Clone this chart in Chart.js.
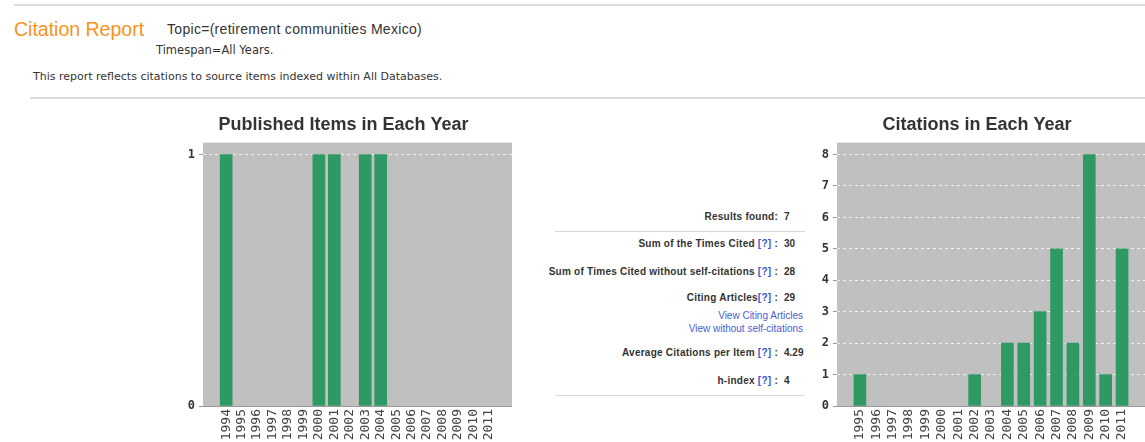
<!DOCTYPE html>
<html>
<head>
<meta charset="utf-8">
<title>Citation Report</title>
<script src="https://cdn.jsdelivr.net/npm/chart.js@4.4.1/dist/chart.umd.min.js"></script>
<style>
body { margin: 0; width: 1145px; height: 442px; overflow: hidden; background: #fff; position: relative;
       font-family: "Liberation Sans", Arial, sans-serif; color: #333; }
.rule { position: absolute; height: 2px; background: #dcdcdc; right: 0; }
.txt { position: absolute; white-space: nowrap; line-height: 1; }
.lab { position: absolute; right: 367px; white-space: nowrap; font-size: 10px; font-weight: bold; color: #333; line-height: 1; letter-spacing: 0.25px; }
.val { position: absolute; left: 784px; white-space: nowrap; font-size: 10px; font-weight: bold; color: #333; line-height: 1; }
.q { color: #3a55c8; }
.lnk { position: absolute; right: 342px; white-space: nowrap; font-size: 10px; color: #4a60d0; line-height: 1; }
.sep { position: absolute; left: 555px; width: 250px; height: 1px; background: #d8d8d8; }
canvas { position: absolute; }
</style>
</head>
<body>
<div class="rule" style="left:14px; top:4px;"></div>
<div class="txt" style="left:14px; top:20px; font-size:19.5px; color:#f7941e;">Citation Report</div>
<div class="txt" style="left:167px; top:22px; font-size:14px; letter-spacing:0.3px; color:#333;">Topic=(retirement communities Mexico)</div>
<div class="txt" style="left:156px; top:45px; font-size:11.5px; font-family:'DejaVu Sans'; color:#333;">Timespan=All Years.</div>
<div class="txt" style="left:33px; top:71px; font-size:11px; font-family:'DejaVu Sans'; color:#333;">This report reflects citations to source items indexed within All Databases.</div>
<div class="rule" style="left:30px; top:97px;"></div>

<div class="lab" style="top:212px;">Results found:</div><div class="val" style="top:212px;">7</div>
<div class="sep" style="top:231px;"></div>
<div class="lab" style="top:239px;">Sum of the Times Cited <span class="q">[?]</span> :</div><div class="val" style="top:239px;">30</div>
<div class="lab" style="top:267px;">Sum of Times Cited without self-citations <span class="q">[?]</span> :</div><div class="val" style="top:267px;">28</div>
<div class="lab" style="top:293px;">Citing Articles<span class="q">[?]</span> :</div><div class="val" style="top:293px;">29</div>
<div class="lnk" style="top:311px;">View Citing Articles</div>
<div class="lnk" style="top:324px;">View without self-citations</div>
<div class="lab" style="top:348px;">Average Citations per Item <span class="q">[?]</span> :</div><div class="val" style="top:348px;">4.29</div>
<div class="lab" style="top:376px;">h-index <span class="q">[?]</span> :</div><div class="val" style="top:376px;">4</div>
<div class="sep" style="top:395px;"></div>

<canvas id="pubChart" width="337" height="337" style="left:175px; top:105px;"></canvas>
<canvas id="citeChart" width="336" height="337" style="left:809px; top:105px;"></canvas>

<script>
// data
const pubYears = [1994, 1995, 1996, 1997, 1998, 1999, 2000, 2001, 2002, 2003, 2004, 2005, 2006, 2007, 2008, 2009, 2010, 2011]
const pubItems = [1, 0, 0, 0, 0, 0, 1, 1, 0, 1, 1, 0, 0, 0, 0, 0, 0, 0]
const pubTicks = [0, 1]

const citeYears = [1995, 1996, 1997, 1998, 1999, 2000, 2001, 2002, 2003, 2004, 2005, 2006, 2007, 2008, 2009, 2010, 2011]
const citeCounts = [1, 0, 0, 0, 0, 0, 0, 1, 0, 2, 2, 3, 5, 2, 8, 1, 5]
const citeTicks = [0, 1, 2, 3, 4, 5, 6, 7, 8]

const barGreen = '#2f9963'
const plotGray = '#c0c0c0'

const plotBg = {
  id: 'plotBg',
  beforeDraw(chart) {
    let a = chart.chartArea
    let ctx = chart.ctx
    ctx.save()
    ctx.fillStyle = plotGray
    ctx.fillRect(a.left, a.top, a.right - a.left, a.bottom - a.top)
    ctx.restore()
  }
}

function yearChart(id, title, years, values, yTicks, xMin, xMax, yMax) {
  let ctx = document.querySelector(id).getContext('2d')
  return new Chart(ctx, {
    type: 'bar',
    data: {
      datasets: [{
        // zero years get no bar at all
        data: years.map((y, i) => ({x: y, y: values[i] || null})),
        backgroundColor: barGreen,
        barThickness: 12
      }]
    },
    plugins: [plotBg],
    options: {
      responsive: false,
      animation: false,
      layout: {padding: 0},
      plugins: {
        legend: {display: false},
        tooltip: {enabled: false},
        title: {
          display: true,
          text: title,
          color: '#333',
          font: {family: 'Liberation Sans', size: 18, weight: 'bold'},
          padding: {top: 9, bottom: 7}
        }
      },
      scales: {
        x: {
          type: 'linear',
          offset: false,
          min: xMin,
          max: xMax,
          afterBuildTicks: s => { s.ticks = years.map(v => ({value: v})) },
          afterFit: s => { s.height = 36 },
          grid: {display: false, drawTicks: false},
          border: {display: true, color: '#999', width: 1},
          ticks: {
            autoSkip: false,
            minRotation: 90,
            maxRotation: 90,
            padding: 3,
            color: '#444',
            font: {family: 'DejaVu Sans Mono', size: 13},
            callback: v => String(v)
          }
        },
        y: {
          min: 0,
          max: yMax,
          afterBuildTicks: s => { s.ticks = yTicks.map(v => ({value: v})) },
          afterFit: s => { s.width = 28 },
          grid: {
            color: c => c.tick && c.tick.value === 0 ? 'rgba(0,0,0,0)' : 'rgba(255,255,255,0.75)',
            drawTicks: true,
            tickLength: 4,
            tickColor: '#999'
          },
          border: {display: false, dash: [3, 3]},
          ticks: {
            padding: 4,
            color: '#333',
            font: {family: 'DejaVu Sans Mono', size: 12, weight: 'bold'},
            callback: v => String(v)
          }
        }
      }
    }
  })
}

yearChart('#pubChart', 'Published Items in Each Year', pubYears, pubItems, pubTicks, 1992.5, 2012.5, 1.048)
yearChart('#citeChart', 'Citations in Each Year', citeYears, citeCounts, citeTicks, 1993.6, 2012.4, 8.38)
</script>
</body>
</html>
